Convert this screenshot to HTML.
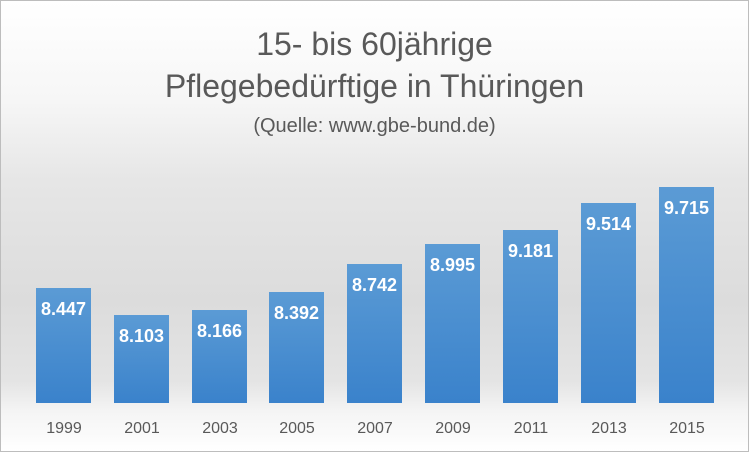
<!DOCTYPE html><html><head><style>
body{margin:0}
#c{position:relative;width:747px;height:450px;border:1px solid #bdbdbd;overflow:hidden;
background:linear-gradient(to bottom,#fff 0px,#f6f6f6 100px,#e6e6e6 180px,#dcdcdc 300px,#e4e4e4 380px,#f4f4f4 410px,#fff 450px);font-family:"Liberation Sans",sans-serif}
.t{position:absolute;left:0;width:747px;text-align:center;color:#595959}
.b{position:absolute;width:55px;bottom:48px;background:linear-gradient(#5b9bd5,#3a82cb);}
.b span{position:absolute;left:-5px;right:-5px;top:11px;text-align:center;color:#fff;font-weight:bold;font-size:18px}
.x{position:absolute;top:419px;width:80px;text-align:center;color:#595959;font-size:16px}
</style></head><body><div id="c">
<div class="t" style="top:25px;font-size:32px">15- bis 60jährige</div>
<div class="t" style="top:67px;font-size:32px">Pflegebedürftige in Thüringen</div>
<div class="t" style="top:114px;font-size:20px">(Quelle: www.gbe-bund.de)</div>
<div class="b" style="left:35px;height:115px"><span>8.447</span></div>
<div class="b" style="left:113px;height:88px"><span>8.103</span></div>
<div class="b" style="left:191px;height:93px"><span>8.166</span></div>
<div class="b" style="left:268px;height:111px"><span>8.392</span></div>
<div class="b" style="left:346px;height:139px"><span>8.742</span></div>
<div class="b" style="left:424px;height:159px"><span>8.995</span></div>
<div class="b" style="left:502px;height:173px"><span>9.181</span></div>
<div class="b" style="left:580px;height:200px"><span>9.514</span></div>
<div class="b" style="left:658px;height:216px"><span>9.715</span></div>
<div class="x" style="left:23px">1999</div>
<div class="x" style="left:101px">2001</div>
<div class="x" style="left:179px">2003</div>
<div class="x" style="left:256px">2005</div>
<div class="x" style="left:334px">2007</div>
<div class="x" style="left:412px">2009</div>
<div class="x" style="left:490px">2011</div>
<div class="x" style="left:568px">2013</div>
<div class="x" style="left:646px">2015</div>
</div></body></html>
